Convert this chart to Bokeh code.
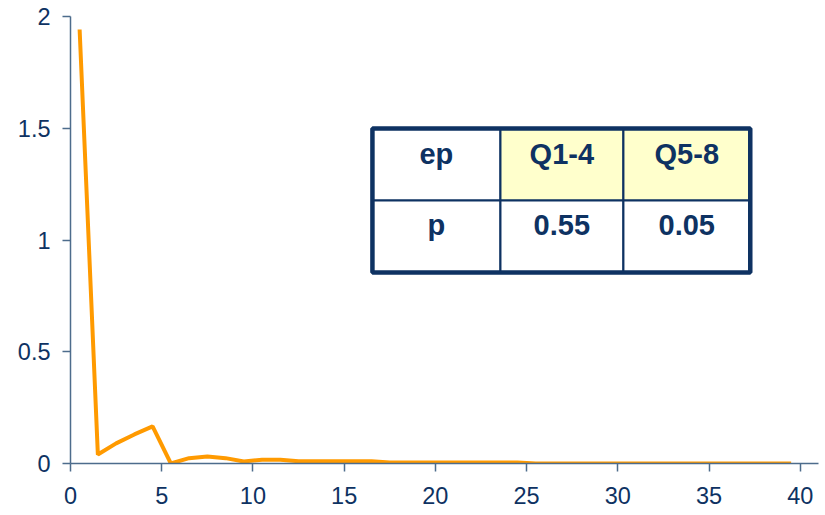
from bokeh.plotting import figure
from bokeh.models import FixedTicker, ColumnDataSource
from bokeh.core.properties import value
from bokeh.embed import file_html
from bokeh.resources import INLINE

# Series: value per step
steps = [0.5, 1.5, 2.5, 3.5, 4.5, 5.5, 6.5, 7.5, 8.5, 9.5,
         10.5, 11.5, 12.5, 13.5, 14.5, 15.5, 16.5, 17.5, 18.5, 19.5,
         20.5, 21.5, 22.5, 23.5, 24.5, 25.5, 26.5, 27.5, 28.5, 29.5,
         30.5, 31.5, 32.5, 33.5, 34.5, 35.5, 36.5, 37.5, 38.5, 39.5]
values = [1.942, 0.040, 0.090, 0.130, 0.166, 0.000, 0.024, 0.031, 0.024, 0.009,
          0.017, 0.017, 0.010, 0.010, 0.010, 0.010, 0.010, 0.004, 0.004, 0.004,
          0.004, 0.004, 0.004, 0.004, 0.004, 0.000, 0.000, 0.000, 0.000, 0.000,
          0.000, 0.000, 0.000, 0.000, 0.000, 0.000, 0.000, 0.000, 0.000, 0.000]

x_ticks = [0, 5, 10, 15, 20, 25, 30, 35, 40]
y_ticks = [0, 0.5, 1, 1.5, 2]
y_tick_labels = ["0", "0.5", "1", "1.5", "2"]

# Inset table contents
table_header = ["ep", "Q1-4", "Q5-8"]
table_row = ["p", "0.55", "0.05"]

NAVY = "#0e3262"
AXIS = "#4d6c8c"
ORANGE = "#ff9a00"
FONT = "Liberation Sans"

p = figure(width=825, height=515, x_range=(0, 41), y_range=(0, 2),
           output_backend="svg", toolbar_location=None,
           min_border_left=70, min_border_right=7,
           min_border_top=16, min_border_bottom=52)
p.outline_line_color = None
p.xgrid.visible = False
p.ygrid.visible = False
p.background_fill_color = "white"
p.border_fill_color = "white"

for ax in (p.xaxis[0], p.yaxis[0]):
    ax.axis_line_color = AXIS
    ax.axis_line_width = 1.5
    ax.major_tick_line_color = AXIS
    ax.major_tick_line_width = 1.5
    ax.major_tick_in = 0
    ax.major_tick_out = 8
    ax.minor_tick_line_color = None
    ax.major_label_text_font = FONT
    ax.major_label_text_font_size = "23.5px"
    ax.major_label_text_color = NAVY

p.xaxis.ticker = FixedTicker(ticks=x_ticks)
p.xaxis.major_label_standoff = 15
p.yaxis.ticker = FixedTicker(ticks=y_ticks)
p.yaxis.major_label_overrides = dict(zip(y_ticks, y_tick_labels))
p.yaxis.major_label_standoff = 12

src = ColumnDataSource(data=dict(x=steps, y=values))
p.line("x", "y", source=src, line_color=ORANGE, line_width=4)

# Inset table, placed in data coordinates
col_edges = [16.55, 23.56, 30.3, 37.26]
row_edges = [1.499, 1.177, 0.855]
col_mid = [(col_edges[i] + col_edges[i + 1]) / 2 for i in range(3)]
header_y = 1.383
row_y = 1.066

fills = ["white", "#ffffcc", "#ffffcc"]
p.quad(left=col_edges[:3], right=col_edges[1:], top=[row_edges[0]] * 3,
       bottom=[row_edges[1]] * 3, fill_color=fills, line_color=None)
p.quad(left=col_edges[:3], right=col_edges[1:], top=[row_edges[1]] * 3,
       bottom=[row_edges[2]] * 3, fill_color="white", line_color=None)

# inner grid lines
p.segment(x0=[col_edges[1], col_edges[2], col_edges[0]],
          y0=[row_edges[0], row_edges[0], row_edges[1]],
          x1=[col_edges[1], col_edges[2], col_edges[3]],
          y1=[row_edges[2], row_edges[2], row_edges[1]],
          line_color=NAVY, line_width=2.3)
# outer frame
p.quad(left=[col_edges[0]], right=[col_edges[3]], top=[row_edges[0]],
       bottom=[row_edges[2]], fill_color=None, line_color=NAVY, line_width=4.5)

p.text(x=col_mid, y=[header_y] * 3, text=table_header,
       text_font=value(FONT), text_font_style="bold", text_font_size="29px",
       text_color=NAVY, text_align="center", text_baseline="middle")
p.text(x=col_mid, y=[row_y] * 3, text=table_row,
       text_font=value(FONT), text_font_style="bold", text_font_size="29px",
       text_color=NAVY, text_align="center", text_baseline="middle")

open("out.html", "w").write(file_html(p, INLINE))
